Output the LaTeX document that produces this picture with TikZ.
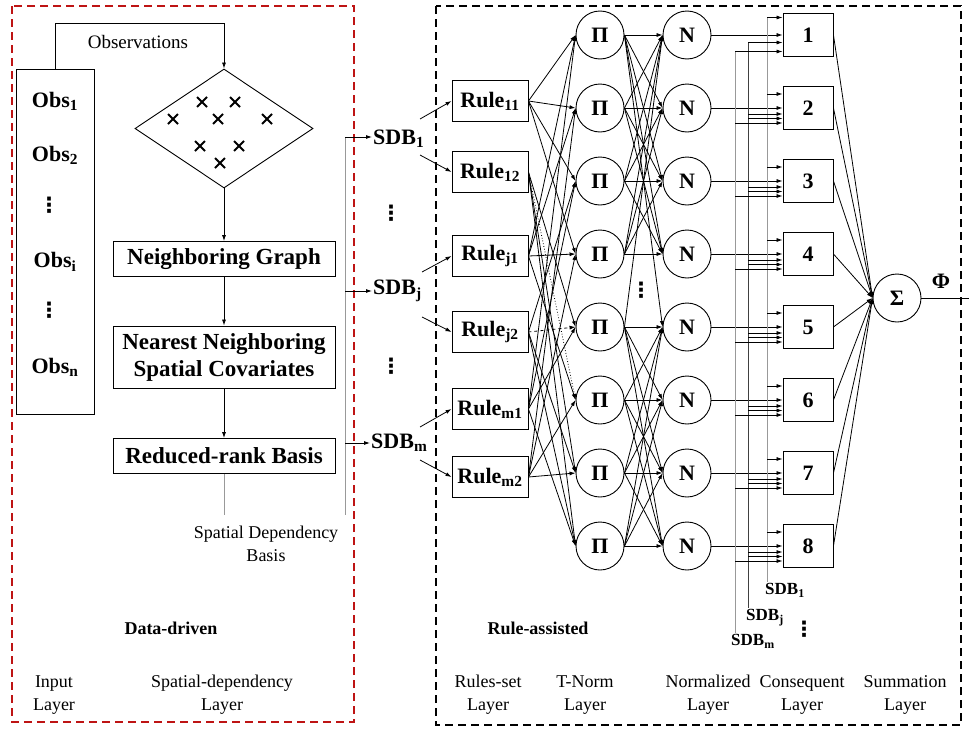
\documentclass[tikz,border=0pt]{standalone}
\usepackage{fontspec}
\setmainfont{Liberation Serif}
\newfontfamily\djv{DejaVu Sans}
\usetikzlibrary{arrows.meta,shapes.geometric,calc}
\newcommand{\fsz}[2]{\fontsize{#1}{#2}\selectfont}
\newcommand{\vdts}{{\djv\bfseries ⋮}}
\definecolor{dred}{RGB}{190,20,20}
\begin{document}
\begin{tikzpicture}[x=1pt,y=-1pt,
  ln/.style={line width=0.8pt},
  arr/.style={line width=0.8pt, -{Latex[length=6pt,width=4pt]}},
  gln/.style={line width=0.8pt, draw=black!40},
  bx/.style={draw, line width=0.9pt, minimum width=222pt, inner sep=0pt, align=center, font=\bfseries\fsz{23}{27}},
  rulebox/.style={draw, line width=0.9pt, minimum width=76pt, minimum height=41pt, inner sep=0pt, font=\bfseries\fsz{22}{24}},
  nd/.style={draw, circle, line width=0.9pt, minimum size=48pt, inner sep=0pt, font=\bfseries\fsz{22}{24}},
  cbx/.style={draw, line width=0.9pt, minimum width=50pt, minimum height=43pt, inner sep=0pt, font=\bfseries\fsz{22}{24}},
  obst/.style={font=\bfseries\fsz{22}{24}},
  sdbl/.style={font=\bfseries\fsz{22}{24}, inner sep=1pt},
  sdbs/.style={font=\bfseries\fsz{17}{20}, inner sep=1pt},
  lay/.style={font=\fsz{18}{23}, align=center},
  ttl/.style={font=\bfseries\fsz{18}{22}},
  xm/.style={line width=1.8pt},
  vd/.style={font=\fsz{21}{24}, inner sep=0pt}
]
\useasboundingbox (0,0) rectangle (969,731);
\fill[white] (0,0) rectangle (969,731);

% group frames
\draw[dred, line width=2pt, dash pattern=on 8pt off 5pt] (12,6) rectangle (354,722);
\draw[black, line width=2pt, dash pattern=on 8pt off 5pt] (436,6) rectangle (961,725);

% ---------- left part ----------
\node[draw, line width=0.9pt, minimum width=78pt, minimum height=345pt, inner sep=0pt] (obs) at (55,241.5) {};
\node[obst] (o1) at (55,101) {Obs\textsubscript{1}};
\node[obst] (o2) at (55,155) {Obs\textsubscript{2}};
\node[vd] (od1) at (49,205) {\vdts};
\node[obst] (oi) at (55,262) {Obs\textsubscript{i}};
\node[vd] (od2) at (49,310) {\vdts};
\node[obst] (on) at (55,367) {Obs\textsubscript{n}};

\node[draw, diamond, line width=0.9pt, minimum width=178pt, minimum height=119pt, inner sep=0pt] (dia) at (224,128.5) {};
\foreach \px/\py in {202/102,235/102,173/119,218/119,267/119,200/146,239/146,220/163}
  \draw[xm] (\px,\py) +(-5,-5) -- +(5,5) +(-5,5) -- +(5,-5);

\draw[arr] (obs.north) -- ++(0,-45) -| (dia.north);
\node[font=\fsz{19}{22}] (obsl) at (138,42) {Observations};

\node[bx, minimum height=35pt] (ng) at (224,259) {Neighboring Graph};
\node[bx, minimum height=62pt] (nn) at (224,357) {Nearest Neighboring\\Spatial Covariates};
\node[bx, minimum height=35pt] (rr) at (224,456) {Reduced-rank Basis};
\draw[arr] (dia.south) -- (ng.north);
\draw[arr] (ng.south) -- (nn.north);
\draw[arr] (nn.south) -- (rr.north);
\coordinate (rrend) at (224,515);
\draw[gln] (rr.south) -- (rrend);
\node[lay] (sdbasis) at (266,544) {Spatial Dependency\\Basis};

% bus to SDB
\coordinate (bt) at (345,137);
\coordinate (bb) at (345,515);
\draw[gln] (bt) -- (bb);
\node[sdbl, anchor=west] (sdb1) at (372,139) {SDB\textsubscript{1}};
\node[sdbl, anchor=west] (sdbj) at (372,291) {SDB\textsubscript{j}};
\node[sdbl, anchor=west] (sdbm) at (370,443) {SDB\textsubscript{m}};
\node[vd] (sv1) at (391,213) {\vdts};
\node[vd] (sv2) at (391,366) {\vdts};
\draw[arr] (bt) -- (bt -| sdb1.west);
\draw[arr] (bt |- sdbj.west) -- (sdbj.west);
\draw[arr] (bt |- sdbm.west) -- (sdbm.west);

% ---------- rules ----------
\node[rulebox] (r11) at (490,101) {Rule\textsubscript{11}};
\node[rulebox] (r12) at (490,172) {Rule\textsubscript{12}};
\node[rulebox] (rj1) at (490,256) {Rule\textsubscript{j1}};
\node[rulebox] (rj2) at (490,332) {Rule\textsubscript{j2}};
\node[rulebox] (rm1) at (490,409) {Rule\textsubscript{m1}};
\node[rulebox] (rm2) at (490,477) {Rule\textsubscript{m2}};

\coordinate (s1a) at (420,119); \coordinate (s1b) at (420,155);
\coordinate (sja) at (422,272); \coordinate (sjb) at (422,317);
\coordinate (sma) at (420,427); \coordinate (smb) at (420,460);
\draw[arr] (s1a) -- (r11.west);
\draw[arr] (s1b) -- (r12.west);
\draw[arr] (sja) -- (rj1.west);
\draw[arr] (sjb) -- (rj2.west);
\draw[arr] (sma) -- (rm1.west);
\draw[arr] (smb) -- (rm2.west);

% ---------- layers ----------
\foreach \i [evaluate=\i as \yy using {35+73*(\i-1)}] in {1,...,8} {
  \node[nd] (p\i) at (600,\yy) {Π};
  \node[nd] (n\i) at (687,\yy) {N};
  \node[cbx] (c\i) at (808,\yy) {\i};
}

% rules -> T-norm
\foreach \j in {1,2,3,4} \draw[arr] (r11.east) -- (p\j.west);
\foreach \j in {5,7,8} \draw[arr] (r12.east) -- (p\j.west);
\draw[arr, dotted] (r12.east) -- (p6.west);
\foreach \j in {1,2,4,6} \draw[arr] (rj1.east) -- (p\j.west);
\foreach \j in {3,7,8} \draw[arr] (rj2.east) -- (p\j.west);
\draw[arr, dashed] (rj2.east) -- (p5.west);
\foreach \j in {1,3,5,8} \draw[arr] (rm1.east) -- (p\j.west);
\foreach \j in {2,4,6,7} \draw[arr] (rm2.east) -- (p\j.west);

% T-norm -> normalized
\foreach \i in {1,...,4} \foreach \j in {1,...,4} \draw[arr] (p\i.east) -- (n\j.west);
\foreach \i in {5,...,8} \foreach \j in {5,...,8} \draw[arr] (p\i.east) -- (n\j.west);
\draw[arr] (p1.east) -- (n5.west);
\draw[arr] (p5.east) -- (n1.west);
\node[vd] (pnv) at (641,290) {\vdts};

% normalized -> consequent
\foreach \i in {1,...,8} \draw[arr] (n\i.east) -- (c\i.west);

% SDB buses into consequent layer
\coordinate (b1t) at (767,17.5); \coordinate (b1b) at (767,582);
\coordinate (bjt) at (748,42.5); \coordinate (bjb) at (748,608);
\coordinate (bmt) at (735,51.5); \coordinate (bmb) at (735,633);
\draw[gln] (b1t) -- (b1b);
\draw[ln, draw=black!75] (bjt) -- (bjb);
\draw[gln] (bmt) -- (bmb);
\draw[arr] (b1t) -- (c1.west |- b1t);
\draw[arr] (bjt) -- (c1.west |- bjt);
\draw[arr] (bmt) -- (c1.west |- bmt);
\foreach \i in {2,...,8} {
  \draw[arr] ([yshift=14pt]c\i.west -| b1t) -- ([yshift=14pt]c\i.west);
  \draw[arr] ([yshift=-6pt]c\i.west -| bjt) -- ([yshift=-6pt]c\i.west);
  \draw[arr] ([yshift=-10.5pt]c\i.west -| bjt) -- ([yshift=-10.5pt]c\i.west);
  \draw[arr] ([yshift=-15pt]c\i.west -| bmt) -- ([yshift=-15pt]c\i.west);
}
\node[sdbs, anchor=north west] (lb1) at ([xshift=-3pt]b1b) {SDB\textsubscript{1}};
\node[sdbs, anchor=north west] (lbj) at ([xshift=-3pt]bjb) {SDB\textsubscript{j}};
\node[sdbs, anchor=north west] (lbm) at ([xshift=-5pt]bmb) {SDB\textsubscript{m}};
\node[vd] (lbv) at (804,629) {\vdts};

% summation
\node[nd] (sig) at (897,298) {Σ};
\foreach \i in {1,...,8} \draw[arr] (c\i.east) -- (sig.west);
\coordinate (outp) at (969,298);
\draw[ln] (sig.east) -- (outp);
\node[font=\bfseries\fsz{22}{24}] (phi) at (941,281) {Φ};

% ---------- titles ----------
\node[ttl] (dd) at (171,628) {Data-driven};
\node[ttl] (ra) at (538,628) {Rule-assisted};
\node[lay] (l1) at (54,695) {Input\\Layer};
\node[lay] (l2) at (222,695) {Spatial-dependency\\Layer};
\node[lay] (l3) at (488,695) {Rules-set\\Layer};
\node[lay] (l4) at (585,695) {T-Norm\\Layer};
\node[lay] (l5) at (708,695) {Normalized\\Layer};
\node[lay] (l6) at (802,695) {Consequent\\Layer};
\node[lay] (l7) at (905,695) {Summation\\Layer};
\end{tikzpicture}
\end{document}
